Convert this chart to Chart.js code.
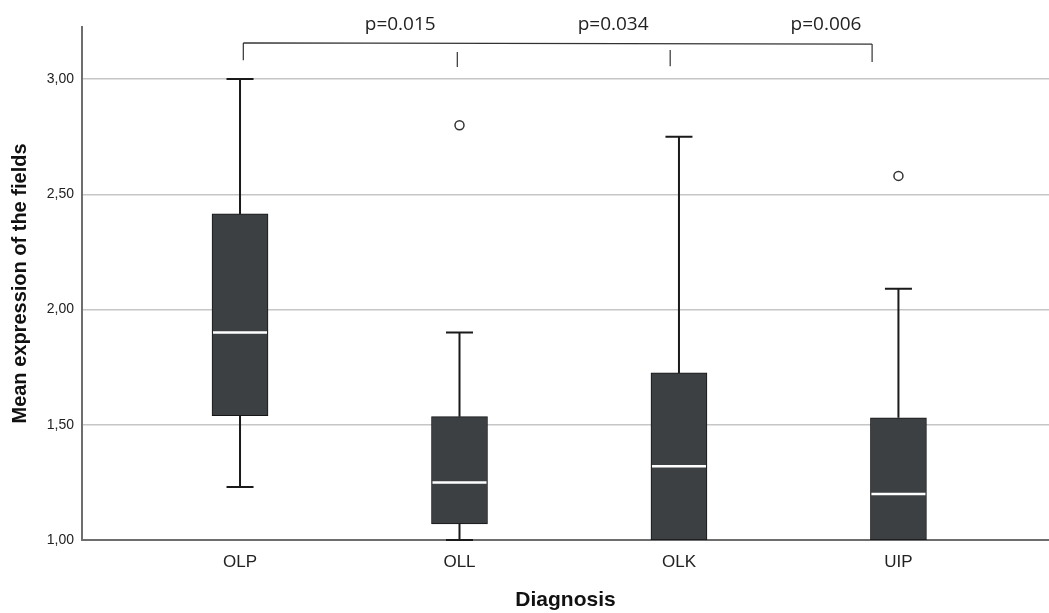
<!DOCTYPE html>
<html lang="en">
<head>
<meta charset="UTF-8">
<title>Mean expression by diagnosis</title>
<script src="https://cdn.jsdelivr.net/npm/chart.js"></script>
<style>
    html, body { margin: 0; padding: 0; background: #fff; overflow: hidden; }
    canvas { display: block; }
</style>
</head>
<body>
<canvas id="grafico" width="1049" height="613"></canvas>

<script>
    // box plot values
    const diagnoses = ['OLP', 'OLL', 'OLK', 'UIP'];
    const whiskerLow = [1.23, 1.00, 1.00, 1.00];
    const q1 = [1.54, 1.07, 1.00, 1.00];
    const medians = [1.90, 1.25, 1.32, 1.20];
    const q3 = [2.415, 1.535, 1.725, 1.53];
    const whiskerHigh = [3.00, 1.90, 2.75, 2.09];
    const outlierGroup = [1, 3];
    const outlierValues = [2.80, 2.58];
    const yTicks = [1.0, 1.5, 2.0, 2.5, 3.0];

    // significance bracket on top
    const pLabels = ['p=0.015', 'p=0.034', 'p=0.006'];
    const pLabelX = [0.73, 1.70, 2.67];
    const bracketX = [0.015, 0.99, 1.96, 2.88];
    const bracketTop = [3.157, 3.117, 3.126, 3.152];
    const bracketBottom = [3.082, 3.052, 3.056, 3.074];

    const fonte = "'Liberation Sans', Arial, sans-serif";

    const boxExtras = {
        id: 'boxExtras',
        afterDatasetsDraw(chart) {
            const { ctx, scales: { x, y } } = chart;
            ctx.save();
            ctx.strokeStyle = '#1a1a1a';
            ctx.lineWidth = 2;
            diagnoses.forEach((d, i) => {
                const cx = x.getPixelForValue(i);
                // upper whisker
                ctx.beginPath();
                ctx.moveTo(cx, y.getPixelForValue(q3[i]));
                ctx.lineTo(cx, y.getPixelForValue(whiskerHigh[i]));
                ctx.moveTo(cx - 13.5, y.getPixelForValue(whiskerHigh[i]));
                ctx.lineTo(cx + 13.5, y.getPixelForValue(whiskerHigh[i]));
                // lower whisker
                if (whiskerLow[i] < q1[i]) {
                    ctx.moveTo(cx, y.getPixelForValue(q1[i]));
                    ctx.lineTo(cx, y.getPixelForValue(whiskerLow[i]));
                    ctx.moveTo(cx - 13.5, y.getPixelForValue(whiskerLow[i]));
                    ctx.lineTo(cx + 13.5, y.getPixelForValue(whiskerLow[i]));
                }
                ctx.stroke();
            });
            // medians
            ctx.strokeStyle = '#ffffff';
            ctx.lineWidth = 2.5;
            diagnoses.forEach((d, i) => {
                const cx = x.getPixelForValue(i);
                const my = y.getPixelForValue(medians[i]);
                ctx.beginPath();
                ctx.moveTo(cx - 27, my);
                ctx.lineTo(cx + 27, my);
                ctx.stroke();
            });
            ctx.restore();
        },
        afterDraw(chart) {
            const { ctx, scales: { x, y } } = chart;
            ctx.save();
            ctx.strokeStyle = '#333';
            ctx.lineWidth = 1.2;
            ctx.beginPath();
            ctx.moveTo(x.getPixelForValue(bracketX[0]), y.getPixelForValue(bracketTop[0]));
            ctx.lineTo(x.getPixelForValue(bracketX[3]), y.getPixelForValue(bracketTop[3]));
            bracketX.forEach((bx, i) => {
                ctx.moveTo(x.getPixelForValue(bx), y.getPixelForValue(bracketTop[i]));
                ctx.lineTo(x.getPixelForValue(bx), y.getPixelForValue(bracketBottom[i]));
            });
            ctx.stroke();

            ctx.fillStyle = '#222';
            ctx.font = "19px 'Open Sans', sans-serif";
            ctx.textAlign = 'center';
            ctx.textBaseline = 'alphabetic';
            pLabels.forEach((txt, i) => {
                ctx.fillText(txt, x.getPixelForValue(pLabelX[i]), 30);
            });
            ctx.restore();
        }
    };

    new Chart(document.getElementById('grafico'), {
        type: 'bar',
        data: {
            datasets: [
                {
                    label: 'IQR',
                    data: diagnoses.map((d, i) => ({ x: i, y: [q1[i], q3[i]] })),
                    backgroundColor: '#3d4043',
                    borderColor: '#151515',
                    borderWidth: 1,
                    borderSkipped: false,
                    barThickness: 56
                },
                {
                    type: 'scatter',
                    label: 'Outliers',
                    data: outlierGroup.map((g, k) => ({ x: g, y: outlierValues[k] })),
                    pointStyle: 'circle',
                    pointRadius: 4.5,
                    pointBackgroundColor: '#ffffff',
                    pointBorderColor: '#333',
                    pointBorderWidth: 1.5
                }
            ]
        },
        options: {
            responsive: false,
            animation: false,
            layout: { autoPadding: false, padding: { top: 27, right: 0, left: 0, bottom: 0 } },
            plugins: {
                legend: { display: false },
                tooltip: { enabled: false }
            },
            scales: {
                x: {
                    type: 'linear',
                    offset: false,
                    min: -0.72,
                    max: 3.686,
                    afterBuildTicks: ax => { ax.ticks = diagnoses.map((d, i) => ({ value: i })); },
                    afterFit: ax => { ax.height = 73; ax.paddingLeft = 0; ax.paddingRight = 0; },
                    ticks: {
                        callback: v => diagnoses[v],
                        font: { family: fonte, size: 17 },
                        color: '#222',
                        padding: 4,
                        maxRotation: 0,
                        autoSkip: false
                    },
                    grid: { display: false },
                    border: { color: '#6e6e6e', width: 2 },
                    title: {
                        display: true,
                        text: 'Diagnosis',
                        font: { family: fonte, size: 21, weight: 'bold' },
                        color: '#111',
                        padding: { top: 0, bottom: 0 }
                    }
                },
                y: {
                    min: 1,
                    max: 3.226,
                    afterBuildTicks: ax => { ax.ticks = yTicks.map(v => ({ value: v })); },
                    afterFit: ax => { ax.width = 82; },
                    ticks: {
                        callback: v => v.toFixed(2).replace('.', ','),
                        font: { family: fonte, size: 14 },
                        color: '#222',
                        padding: 8
                    },
                    grid: { color: '#c6c6c6', lineWidth: 1.5, drawTicks: false },
                    border: { color: '#6e6e6e', width: 2 },
                    title: {
                        display: true,
                        text: 'Mean expression of the fields',
                        font: { family: fonte, size: 20, weight: 'bold' },
                        color: '#111',
                        padding: { top: 8, bottom: 0 }
                    }
                }
            }
        },
        plugins: [boxExtras]
    });
</script>
</body>
</html>
